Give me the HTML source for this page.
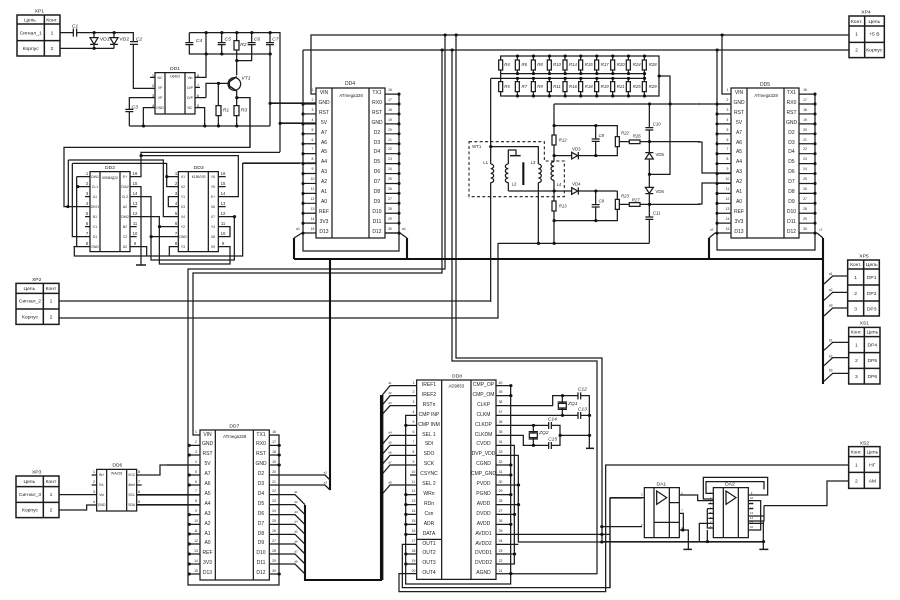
<!DOCTYPE html>
<html><head><meta charset="utf-8"><style>
html,body{margin:0;padding:0;background:#fff}
#r{position:relative;width:900px;height:600px;overflow:hidden}
svg{position:absolute;left:0;top:0}
text{font-family:"Liberation Sans",sans-serif;fill:#222;text-anchor:middle}
.w,.b,.f,.g{vector-effect:non-scaling-stroke}
.w{fill:none;stroke:#1c1c1c;stroke-width:1.25}
.b{fill:none;stroke:#111;stroke-width:2.1}
.f{fill:#fff;stroke:#1c1c1c;stroke-width:1.25}
.g{fill:none;stroke:#1c1c1c;stroke-width:1.5}
.d{fill:none;stroke:#111;stroke-linecap:round}
.s3{stroke-width:9}
.i{font-style:italic}
.c{position:absolute;transform:translateX(-50%);text-align:center;white-space:nowrap;font-family:"Liberation Sans",sans-serif;color:#222;font-size:5px;line-height:9.9px}
.n{font-size:3.4px}
.t{font-size:3.4px;line-height:10px}
.m{font-size:2.8px;line-height:4.9px}
</style></head><body><div id="r">
<svg width="900" height="600" viewBox="0 0 900 600" xmlns="http://www.w3.org/2000/svg">

<!-- global wires -->
<path class="w" d="M316 94H311V35H849M303 50V251H399V94M303 50H849M445 35V269H188V585H279V435H269M442 50V273H193V435H200M452 50V361H597V573.7H496M456 35V358H602V542M722 35V94H731M717 50V250H815V94M280 123H316M270 103H316M243 163H316M59 301H490M59 318H498V243M698 104H731M698 142H702V173H731M698 204H702V183H731"/>
<path class="d" stroke-width="3" d="M445 35h.3M456 35h.3M442 50h.3M452 50h.3M722 35h.3M717 50h.3"/>
<path class="b" d="M294 259H823M294 238V259M407 238V259M709 238V259M823 238V384M330 259V490M305 505V580H381V395"/>
<path class="w" d="M302 233L294 238M400 233L407 238M715 233L709 238M817 233L823 238M303 233H316M385 233H400M715 233H731M799 233H817"/>

<!-- XP1 / DD1 / power block -->
<g transform="scale(.33333)">
<path class="w" d="M180 98H400V265H465M180 145H342M282 98V145M342 98V145M568 98H840V456M568 98V162H810M618 98V232H585M665 98V162M710 98V226M710 182H755V98M810 98V378M618 293H585M618 293V250H685M655 250V378M710 272V378M710 293H750V441M388 378H810M388 378V293H465M430 378V323H465M614 378V323H585M810 310H948M840 370H948M450 232H465M585 262H600"/>
<path class="f" d="M270 113H294L282 133ZM330 113H354L342 133Z"/>
<path class="w" d="M270 133H294M330 133H354"/>
<rect x="219" y="86" width="12" height="24" fill="#fff"/><path class="w" d="M220 86V110M230 86V110"/>
<rect x="388" y="125" width="26" height="8" fill="#fff"/><path class="w" d="M390 125H414M390 133H414"/>
<rect x="556" y="128" width="24" height="6" fill="#fff"/><path class="w" d="M556 128H580M556 134H580"/>
<rect x="653" y="128" width="24" height="6" fill="#fff"/><path class="w" d="M653 128H677M653 134H677"/>
<rect x="743" y="128" width="24" height="6" fill="#fff"/><path class="w" d="M743 128H767M743 134H767"/>
<rect x="798" y="128" width="24" height="6" fill="#fff"/><path class="w" d="M798 128H822M798 134H822"/>
<rect x="376" y="328" width="24" height="7" fill="#fff"/><path class="w" d="M376 328H400M376 335H400"/>
<rect class="f" x="702" y="122" width="15" height="28"/><rect class="f" x="648" y="317" width="15" height="30"/><rect class="f" x="702" y="317" width="15" height="30"/>
<circle class="f" cx="703" cy="252" r="19"/>
<path class="g" d="M688 238V266M688 245L710 230M688 258L710 273"/>
<rect class="f" x="465" y="218" width="120" height="124"/><path class="w" d="M495 218V342M555 218V342"/>
<path class="d s3" d="M282 98h1M342 98h1M282 145h1M618 98h1M665 98h1M710 98h1M755 98h1M810 98h1M618 162h1M665 162h1M810 162h1M710 182h1M655 250h1M710 293h1M430 378h1M614 378h1M655 378h1M710 378h1M810 310h1M840 370h1"/>
<g font-size="15"><text x="225" y="82" class="i">C1</text><text x="314" y="122">VD1</text><text x="373" y="122">VD2</text><text x="417" y="122" class="i">C2</text><text x="597" y="126" class="i">C4</text><text x="683" y="122" class="i">C5</text><text x="730" y="138" class="i">R2</text><text x="771" y="122" class="i">C6</text><text x="826" y="122" class="i">C7</text><text x="738" y="238" class="i">VT1</text><text x="404" y="326" class="i">C3</text><text x="678" y="335" class="i">R1</text><text x="732" y="335" class="i">R3</text><text x="525" y="210">DD1</text></g>
<path class="g" d="M51 45H180V168H51ZM51 72H180M51 122H180M133 45V168"/>
<g font-size="15"><text x="118" y="38">XP1</text><text x="90" y="65">Цепь</text><text x="156" y="65">Конт.</text><text x="92" y="104">Сигнал_1</text><text x="156" y="104">1</text><text x="92" y="150">Корпус</text><text x="156" y="150">2</text></g>
<text x="525" y="232" font-size="10">U6403</text>
</g>

<!-- DD2 / DD3 -->
<g transform="translate(40 140) scale(.33333)">
<path class="w" d="M630 -126V22H72V200H150M720 37H303V110H270M303 47H595V170H535M85 60H370V230H415M85 60V200M97 70H380V140H415M97 70V290H150M380 110H415M110 110H150M110 110V320M110 140H150M100 320H150M103 320V348H608V70H780M270 140H303V375M270 170H333V360H583V230H535M333 290H415M270 230H358V372H570V320H535M358 260H415M270 320H320V348M415 170H385V200H415M535 260H570V290H535M415 320H388V348M135 170H150M135 230H150M135 260H150M270 200H290M270 260H290M270 290H290M535 110H557M535 140H557M535 200H557"/>
<path class="g" d="M288 375H318"/>
<rect class="f" x="150" y="95" width="120" height="240"/><path class="w" d="M180 95V335M240 95V335"/>
<rect class="f" x="415" y="95" width="120" height="240"/><path class="w" d="M445 95V335M505 95V335"/>
<path class="d s3" d="M303 47h1M83 200h1M113 140h1M380 110h1M358 260h1M333 290h1M583 230h1"/>
<text x="210" y="87" font-size="15">DD2</text><text x="476" y="87" font-size="15">DD3</text>
<text x="210" y="117" font-size="10">К555ИД20</text><text x="476" y="114" font-size="10">К155ЛЛ3</text>
</g>

<!-- DD4 -->
<rect class="f" x="316" y="88" width="69" height="150"/><path class="w" d="M332 88V238M369 88V238"/>
<path fill="none" stroke="#1c1c1c" stroke-dasharray="1.2 8.73" stroke-width="13" d="M309.5 103.4V228"/>
<path fill="none" stroke="#1c1c1c" stroke-dasharray="1.2 8.73" stroke-width="14" d="M392 93.5V228"/>
<path class="d" stroke-width="3" stroke-dasharray=".2 9.73" d="M303 104V234"/>
<path class="d" stroke-width="3" stroke-dasharray=".2 9.73" d="M399 94V234"/>
<path class="w" d="M385 233H399"/>
<text x="350" y="85" font-size="5">DD4</text><text x="351" y="97" font-size="4.4">ATmega328</text>

<!-- DD5 -->
<rect class="f" x="731" y="88" width="68" height="150"/><path class="w" d="M747 88V238M784 88V238"/>
<path fill="none" stroke="#1c1c1c" stroke-dasharray="1.2 8.73" stroke-width="14" d="M724 103.4V228"/>
<path fill="none" stroke="#1c1c1c" stroke-dasharray="1.2 8.73" stroke-width="16" d="M807 93.5V228"/>
<path class="d" stroke-width="3" stroke-dasharray=".2 9.73" d="M717 104V234"/>
<path class="d" stroke-width="3" stroke-dasharray=".2 9.73" d="M815 94V234"/>
<text x="765" y="86" font-size="5">DD5</text><text x="766" y="97" font-size="4.4">ATmega328</text>

<!-- DD7 -->
<g transform="translate(170 410) scale(.33333)">
<path class="w" d="M57 106H90M57 135H90M57 195H90M57 225H90M57 314H90M57 343H90M57 372H90M57 402H90M57 432H90M57 462H90M57 492H90M298 106H327M298 135H327M298 165H327M298 492H327M298 195H465L480 210M298 225H465L480 240M298 254H375L405 284M298 284H375L405 314M298 314H375L405 344M298 343H375L405 373M298 373H375L405 403M298 402H375L405 432M298 432H375L405 462M298 462H375L405 492M-10 165H90M-103 254H90M-103 284H90"/>
<rect class="f" x="90" y="60" width="208" height="450"/><path class="w" d="M136 60V510M250 60V510"/>
<path class="d s3" d="M57 106h1M57 135h1M57 195h1M57 225h1M57 314h1M57 343h1M57 372h1M57 402h1M57 432h1M57 462h1M57 492h1M327 106h1M327 135h1M327 165h1M327 492h1"/>
<text x="193" y="52" font-size="15">DD7</text><text x="194" y="84" font-size="13">ATmega328</text>
<g font-size="9"><text x="466" y="190">a2</text><text x="466" y="220">a3</text><text x="378" y="249">d1</text><text x="378" y="279">d2</text><text x="378" y="309">d3</text><text x="378" y="338">d4</text><text x="378" y="368">d5</text><text x="378" y="397">d6</text><text x="378" y="427">d7</text><text x="378" y="457">d8</text></g>
</g>

<!-- XP2 XP3 DD6 -->
<g transform="translate(0 270) scale(.33333)">
<path class="g" d="M48 40H177V163H48ZM48 70H177M48 117H177M130 40V163M48 618H177V743H48ZM48 650H177M48 697H177M130 618V743"/>
<path class="w" d="M177 674H290M177 720H260V705H290M410 615H480V585H600M410 675H600M410 705H600M275 615H290M275 645H290M410 645H425"/>
<rect class="f" x="290" y="598" width="120" height="125"/><path class="w" d="M320 598V723M380 598V723"/>
<g font-size="15"><text x="110" y="33">XP2</text><text x="88" y="60">Цепь</text><text x="153" y="60">Конт</text><text x="90" y="98">Сигнал_2</text><text x="153" y="98">1</text><text x="90" y="146">Корпус</text><text x="153" y="146">2</text>
<text x="110" y="611">XP3</text><text x="88" y="639">Цепь</text><text x="153" y="639">Конт</text><text x="90" y="678">Сигнал_3</text><text x="153" y="678">1</text><text x="90" y="725">Корпус</text><text x="153" y="725">2</text><text x="352" y="589">DD6</text></g>
<text x="350" y="614" font-size="10">INA226</text>
</g>

<!-- DD8 -->
<g transform="translate(370 360) scale(.33333)">
<path class="w" d="M140 77H60L37 105M140 107H60L37 135M140 137H60L37 163M140 226H60L37 253M140 256H60L37 283M140 286H60L37 313M140 315H60L37 342M140 375H60L37 402M140 166H107V672H422V77H378M107 196H140M107 404H140M107 434H140M107 463H140M107 493H140M107 523H140M120 345H140M140 582H107M140 612H107M140 553H97V683H720V414H816M140 641H87V695H707V315H1434M378 107H422M378 137H548V107H658V265M378 166H658M378 196H570V256H460V226H378M570 226H658M490 196V256M577 107V166M378 256H433V612H378M378 286H445V546H1179M378 315H422M378 345H422M378 375H445M378 404H422M378 434H445M378 463H433M378 493H422M378 523H720M378 553H445M378 582H433M695 500H816"/>
<path class="b" d="M37 105V660"/>
<path class="g" d="M648 265H672"/>
<rect class="f" x="140" y="60" width="238" height="598"/><path class="w" d="M215 60V658M303 60V658M140 538H215"/>
<rect x="623" y="97" width="10" height="20" fill="#fff"/><path class="w" d="M624 97V118M632 97V118"/>
<rect x="623" y="156" width="10" height="20" fill="#fff"/><path class="w" d="M624 156V177M632 156V177"/>
<rect x="535" y="186" width="10" height="20" fill="#fff"/><path class="w" d="M536 186V207M544 186V207"/>
<rect x="535" y="246" width="10" height="20" fill="#fff"/><path class="w" d="M536 246V267M544 246V267"/>
<rect class="f" x="565" y="130" width="24" height="14"/><path class="w" d="M563 126H591M563 148H591"/>
<rect class="f" x="478" y="219" width="24" height="14"/><path class="w" d="M476 215H504M476 237H504"/>
<path class="d s3" d="M107 196h1M107 404h1M107 434h1M107 463h1M107 493h1M107 523h1M107 582h1M107 612h1M422 77h1M422 107h1M422 315h1M422 345h1M422 404h1M422 493h1M422 641h1M445 375h1M445 434h1M433 463h1M433 582h1M577 107h1M577 166h1M658 166h1M658 226h1M490 196h1M490 256h1M570 226h1M695 500h1M695 523h1M695 546h1"/>
<g font-size="15"><text x="261" y="52">DD8</text><text x="259" y="83" font-size="13">AD9853</text><text x="637" y="91" class="i">C12</text><text x="637" y="151" class="i">C13</text><text x="547" y="181" class="i">C14</text><text x="548" y="241" class="i">C15</text><text x="608" y="135" class="i">ZQ1</text><text x="521" y="222" class="i">ZQ2</text></g>
<g font-size="9"><text x="60" y="72">d1</text><text x="60" y="102">d2</text><text x="60" y="132">d3</text><text x="60" y="221">d4</text><text x="60" y="251">d5</text><text x="60" y="281">d6</text><text x="60" y="310">d7</text><text x="60" y="370">d8</text></g>
</g>

<!-- Analog block -->
<g transform="translate(460 40) scale(.33333)">
<path class="w" d="M122 48H597V168H122ZM122 48V101H553M122 168V115M92 115H553V101M597 108H630V403H568M92 115V372M92 428V786M92 320H235V372M235 428V610M115 610H568M145 453V428M145 372V330H168V347M145 453H472M282 192V365M282 421V610M282 192H720M282 257H472V347H282M472 347V290M472 453V542H282M407 257V347M407 453V542M478 305H720M478 493H720M568 192V610"/>
<path class="w" d="M172 48V101M220 48V101M268 48V101M315 48V101M362 48V101M410 48V101M458 48V101M505 48V101M553 48V101M172 115V168M220 115V168M268 115V168M315 115V168M362 115V168M410 115V168M458 115V168M505 115V168M553 115V168"/>
<rect class="f" x="116" y="60" width="12" height="30"/><rect class="f" x="166" y="60" width="12" height="30"/><rect class="f" x="214" y="60" width="12" height="30"/><rect class="f" x="262" y="60" width="12" height="30"/><rect class="f" x="309" y="60" width="12" height="30"/><rect class="f" x="356" y="60" width="12" height="30"/><rect class="f" x="404" y="60" width="12" height="30"/><rect class="f" x="452" y="60" width="12" height="30"/><rect class="f" x="499" y="60" width="12" height="30"/><rect class="f" x="547" y="60" width="12" height="30"/>
<rect class="f" x="116" y="125" width="12" height="30"/><rect class="f" x="166" y="125" width="12" height="30"/><rect class="f" x="214" y="125" width="12" height="30"/><rect class="f" x="262" y="125" width="12" height="30"/><rect class="f" x="309" y="125" width="12" height="30"/><rect class="f" x="356" y="125" width="12" height="30"/><rect class="f" x="404" y="125" width="12" height="30"/><rect class="f" x="452" y="125" width="12" height="30"/><rect class="f" x="499" y="125" width="12" height="30"/><rect class="f" x="547" y="125" width="12" height="30"/>
<rect class="f" x="276" y="285" width="12" height="30"/><rect class="f" x="276" y="483" width="12" height="30"/><rect class="f" x="466" y="290" width="12" height="30"/><rect class="f" x="466" y="478" width="12" height="30"/><rect class="f" x="508" y="300" width="32" height="11"/><rect class="f" x="508" y="488" width="32" height="11"/>
<path class="w" d="M92 372a9 7 0 0 1 0 14a9 7 0 0 1 0 14a9 7 0 0 1 0 14a9 7 0 0 1 0 14M235 372a9 7 0 0 1 0 14a9 7 0 0 1 0 14a9 7 0 0 1 0 14a9 7 0 0 1 0 14M145 372a9 7 0 0 0 0 14a9 7 0 0 0 0 14a9 7 0 0 0 0 14a9 7 0 0 0 0 14M282 365a9 7 0 0 0 0 14a9 7 0 0 0 0 14a9 7 0 0 0 0 14a9 7 0 0 0 0 14"/>
<path class="g" d="M150 347H182"/><path class="b" d="M190 367V435"/>
<path fill="none" stroke="#1c1c1c" stroke-width="3.2" stroke-dasharray="9 7" d="M27 305H253V363H313V470H27Z"/>
<path class="f" d="M335 337V357L353 347ZM335 443V463L353 453ZM556 357H580L568 339ZM556 442H580L568 460Z"/>
<path class="w" d="M355 336V358M355 442V464M556 338H580M556 461H580"/>
<rect x="395" y="297" width="24" height="7" fill="#fff"/><path class="w" d="M395 297H419M395 304H419"/>
<rect x="395" y="494" width="24" height="7" fill="#fff"/><path class="w" d="M395 494H419M395 501H419"/>
<rect x="556" y="263" width="24" height="7" fill="#fff"/><path class="w" d="M556 263H580M556 270H580"/>
<rect x="556" y="531" width="24" height="7" fill="#fff"/><path class="w" d="M556 531H580M556 538H580"/>
<path class="d s3" d="M172 48h1M220 48h1M268 48h1M315 48h1M362 48h1M410 48h1M458 48h1M505 48h1M553 48h1M172 101h1M220 101h1M268 101h1M315 101h1M362 101h1M410 101h1M458 101h1M505 101h1M553 101h1M172 115h1M220 115h1M268 115h1M315 115h1M362 115h1M410 115h1M458 115h1M505 115h1M553 115h1M172 168h1M220 168h1M268 168h1M315 168h1M362 168h1M410 168h1M458 168h1M505 168h1M553 168h1M597 108h1M92 320h1M282 257h1M282 347h1M282 453h1M282 542h1M282 610h1M235 610h1M407 257h1M407 347h1M407 453h1M407 542h1M568 192h1M630 192h1M568 305h1M568 403h1M568 493h1"/>
<g font-size="13" class="i">
<text x="141" y="78">R4</text><text x="193" y="78">R6</text><text x="240" y="78">R8</text><text x="291" y="78">R10</text><text x="339" y="78">R14</text><text x="386" y="78">R15</text><text x="434" y="78">R17</text><text x="482" y="78">R20</text><text x="530" y="78">R24</text><text x="578" y="78">R28</text>
<text x="141" y="144">R5</text><text x="193" y="144">R7</text><text x="240" y="144">R9</text><text x="291" y="144">R11</text><text x="339" y="144">R16</text><text x="386" y="144">R18</text><text x="434" y="144">R19</text><text x="482" y="144">R21</text><text x="530" y="144">R25</text><text x="578" y="144">R29</text>
<text x="308" y="305">R12</text><text x="308" y="503">R13</text><text x="495" y="283">R22</text><text x="495" y="473">R23</text><text x="530" y="293">R26</text><text x="527" y="484">R27</text>
<text x="424" y="291">C8</text><text x="424" y="488">C9</text><text x="590" y="256">C10</text><text x="590" y="523">C11</text>
</g>
<g font-size="13"><text x="50" y="324">WT1</text><text x="77" y="372">L1</text><text x="162" y="437">L2</text><text x="219" y="372">L3</text><text x="297" y="438">L4</text><text x="349" y="331">VD3</text><text x="349" y="436">VD4</text><text x="599" y="348">VD5</text><text x="599" y="459">VD6</text></g>
</g>

<!-- DA1 DA2 -->
<g transform="translate(600 460) scale(.33333)">
<path class="w" d="M238 105H293V122H340M30 113H133M30 113V384M238 160H250V210M238 210H265V268M5 245H490M445 105H503V52H310V117H340M340 100H318V65H492V88M322 146V204H340M322 146H340M340 160H325M340 175H325M340 131H325M298 245V190H340M322 210V245M445 122H482V210H445M445 190H490M445 168H492M492 137V183H445M445 146H460M445 131H460M490 183V268M492 137H681V63H744"/>
<path class="g" d="M250 268H276M478 268H505"/>
<rect class="f" x="133" y="83" width="105" height="150"/><path class="w" d="M162 83V233M208 83V233M208 128H238M162 187H238"/>
<path class="w" d="M170 93V133L200 113Z"/>
<rect class="f" x="340" y="83" width="105" height="150"/><path class="w" d="M370 83V233M415 83V233"/>
<path class="w" d="M378 93V133L408 113Z"/>
<path class="d s3" d="M322 245h1M490 245h1M248 210h1"/>
<text x="184" y="77" font-size="15">DA1</text><text x="390" y="77" font-size="15">DA2</text>
<g font-size="9"><text x="125" y="106">3</text><text x="125" y="198">2</text><text x="246" y="103">6</text><text x="246" y="155">7</text><text x="246" y="207">4</text></g>
</g>

<!-- XP4 -->
<g transform="translate(690 0) scale(.33333)">
<path class="g" d="M477 48H583V173H477ZM477 78H583M477 127H583M524 48V173"/>
<g font-size="15"><text x="528" y="40">XP4</text><text x="500" y="69">Конт.</text><text x="553" y="69">Цепь</text><text x="500" y="107">1</text><text x="553" y="107">+5 В</text><text x="500" y="155">2</text><text x="553" y="155">Корпус</text></g>
<g font-size="9"><text x="65" y="691">a3</text><text x="392" y="691">c3</text></g>
</g>

<!-- XP5 XS1 XS2 -->
<g transform="translate(740 240) scale(.33333)">
<path class="w" d="M252 132L278 108H323M252 181L278 157H323M252 228L278 204H323M252 331L278 307H326M252 377L278 353H326M252 424L278 400H326"/>
<path class="g" d="M323 60H418V228H323ZM323 87H418M323 135H418M323 183H418M371 60V228M326 262H420V432H326ZM326 290H420M326 338H420M326 385H420M373 262V432M326 620H420V745H326ZM326 650H420M326 697H420M373 620V745"/>
<g font-size="15"><text x="372" y="52">XP5</text><text x="347" y="78" font-size="14">Конт.</text><text x="395" y="78">Цепь</text><text x="347" y="117">1</text><text x="395" y="117">DP1</text><text x="347" y="165">2</text><text x="395" y="165">DP2</text><text x="347" y="212">3</text><text x="395" y="212">DP3</text>
<text x="373" y="253">XS1</text><text x="349" y="280" font-size="14">Конт.</text><text x="397" y="280">Цепь</text><text x="349" y="319">1</text><text x="397" y="319">DP4</text><text x="349" y="366">2</text><text x="397" y="366">DP5</text><text x="349" y="414">3</text><text x="397" y="414">DP6</text>
<text x="373" y="613">XS2</text><text x="349" y="640" font-size="14">Конт.</text><text x="397" y="640">Цепь</text><text x="349" y="679">1</text><text x="397" y="679">НГ</text><text x="349" y="727">2</text><text x="397" y="727">AM</text></g>
<g font-size="10"><text x="272" y="105">a1</text><text x="272" y="153">a2</text><text x="272" y="200">a3</text><text x="272" y="304">b1</text><text x="272" y="353">b2</text><text x="272" y="395">b3</text></g>
</g>
</svg>

<!-- DD4 text columns -->
<div class="c" style="left:324px;top:89px">VIN<br>GND<br>RST<br>5V<br>A7<br>A6<br>A5<br>A4<br>A3<br>A2<br>A1<br>A0<br>REF<br>3V3<br>D13</div>
<div class="c" style="left:377px;top:89px">TX1<br>RX0<br>RST<br>GND<br>D2<br>D3<br>D4<br>D5<br>D6<br>D7<br>D8<br>D9<br>D10<br>D11<br>D12</div>
<div class="c n" style="left:312.5px;top:86px">1<br>2<br>3<br>4<br>5<br>6<br>7<br>8<br>9<br>10<br>11<br>12<br>13<br>14<br>15</div>
<div class="c n" style="left:390px;top:86px">16<br>17<br>18<br>19<br>20<br>21<br>22<br>23<br>24<br>25<br>26<br>27<br>28<br>29<br>30</div>
<!-- DD5 -->
<div class="c" style="left:739px;top:89px">VIN<br>GND<br>RST<br>5V<br>A7<br>A6<br>A5<br>A4<br>A3<br>A2<br>A1<br>A0<br>REF<br>3V3<br>D13</div>
<div class="c" style="left:791.5px;top:89px">TX1<br>RX0<br>RST<br>GND<br>D2<br>D3<br>D4<br>D5<br>D6<br>D7<br>D8<br>D9<br>D10<br>D11<br>D12</div>
<div class="c n" style="left:727.5px;top:86px">1<br>2<br>3<br>4<br>5<br>6<br>7<br>8<br>9<br>10<br>11<br>12<br>13<br>14<br>15</div>
<div class="c n" style="left:805px;top:86px">16<br>17<br>18<br>19<br>20<br>21<br>22<br>23<br>24<br>25<br>26<br>27<br>28<br>29<br>30</div>
<!-- DD7 -->
<div class="c" style="left:207.5px;top:430.5px">VIN<br>GND<br>RST<br>5V<br>A7<br>A6<br>A5<br>A4<br>A3<br>A2<br>A1<br>A0<br>REF<br>3V3<br>D13</div>
<div class="c" style="left:261px;top:430.5px">TX1<br>RX0<br>RST<br>GND<br>D2<br>D3<br>D4<br>D5<br>D6<br>D7<br>D8<br>D9<br>D10<br>D11<br>D12</div>
<div class="c n" style="left:196px;top:428px">1<br>2<br>3<br>4<br>5<br>6<br>7<br>8<br>9<br>10<br>11<br>12<br>13<br>14<br>15</div>
<div class="c n" style="left:274px;top:428px">16<br>17<br>18<br>19<br>20<br>21<br>22<br>23<br>24<br>25<br>26<br>27<br>28<br>29<br>30</div>
<!-- DD8 -->
<div class="c" style="left:429px;top:381px">IREF1<br>IREF2<br>RSTn<br>CMP INP<br>CMP INM<br>SEL 1<br>SDI<br>SDO<br>SCK<br>CSYNC<br>SEL 2<br>WRn<br>RDn<br>Csn<br>ADR<br>DATA<br>OUT1<br>OUT2<br>OUT3<br>OUT4</div>
<div class="c" style="left:483.5px;top:381px">CMP_OP<br>CMP_OM<br>CLKP<br>CLKM<br>CLKDP<br>CLKDM<br>CVDD<br>DVP_VDD<br>CGND<br>CMP_GND<br>PVDD<br>PGND<br>AVDD<br>DVDD<br>AVDD<br>AVDD1<br>AVDD2<br>DVDD1<br>DVDD2<br>AGND</div>
<div class="c n" style="left:413.5px;top:378.5px">1<br>2<br>3<br>4<br>5<br>6<br>7<br>8<br>9<br>10<br>11<br>12<br>13<br>14<br>15<br>16<br>17<br>18<br>19<br>20</div>
<div class="c n" style="left:500.5px;top:378.5px">40<br>39<br>38<br>37<br>36<br>35<br>34<br>33<br>32<br>31<br>30<br>29<br>28<br>27<br>26<br>25<br>24<br>23<br>22<br>21</div>
<!-- DD1 -->
<div class="c t" style="left:160px;top:73px">NC<br>VP<br>VP<br>GND</div>
<div class="c t" style="left:190px;top:73px">Vin<br>D/P<br>D/P<br>NC</div>
<div class="c t" style="left:153px;top:70.5px;font-size:4px">1<br>2<br>3<br>4</div>
<div class="c t" style="left:198px;top:70.5px;font-size:4px">8<br>7<br>6<br>5</div>
<!-- DD2 -->
<div class="c t" style="left:95px;top:171.7px">DIN1<br>CL1<br>A1<br>DIN'1<br>B1<br>C1<br>D1<br>GND</div>
<div class="c t" style="left:125px;top:171.7px">E+<br>DIA2<br>CL2<br>A2<br>DIN2<br>B2<br>C2<br>D2</div>
<div class="c t" style="left:87px;top:168.5px;font-size:4.2px">1<br>2<br>3<br>4<br>5<br>6<br>7<br>8</div>
<div class="c t" style="left:135px;top:168.5px;font-size:4.2px">16<br>15<br>14<br>13<br>12<br>11<br>10<br>9</div>
<!-- DD3 -->
<div class="c t" style="left:183px;top:171.7px">X1<br>X2<br>Y1<br>X3<br>X4<br>Y2<br>GND<br>Y3</div>
<div class="c t" style="left:213px;top:171.7px">Y6<br>Y5<br>E+<br>X6<br>X7<br>Y4<br>X8<br>X9</div>
<div class="c t" style="left:176px;top:168.5px;font-size:4.2px">1<br>2<br>3<br>4<br>5<br>6<br>7<br>8</div>
<div class="c t" style="left:223px;top:168.5px;font-size:4.2px">16<br>15<br>14<br>13<br>12<br>11<br>10<br>9</div>
<!-- DD6 -->
<div class="c t" style="left:101.7px;top:470px">IN+<br>IN-<br>Vin<br>GND</div>
<div class="c t" style="left:131.7px;top:470px">VCC<br>Alert<br>SCL<br>SDA</div>
<div class="c t" style="left:94px;top:467px;font-size:4px">1<br>2<br>3<br>4</div>
<div class="c t" style="left:139px;top:467px;font-size:4px">8<br>7<br>6<br>5</div>
<!-- DA2 -->
<div class="c m" style="left:710.5px;top:491px">1<br>2<br>3<br>4<br>5<br>6<br>7<br>8</div>
<div class="c m" style="left:751.5px;top:491px">9<br>10<br>11<br>12<br>13<br>14<br>15<br>16</div>
<div class="c n" style="left:298px;top:226px;line-height:6px">a1</div>
<div class="c n" style="left:404px;top:226px;line-height:6px">a1</div>
</div></body></html>
